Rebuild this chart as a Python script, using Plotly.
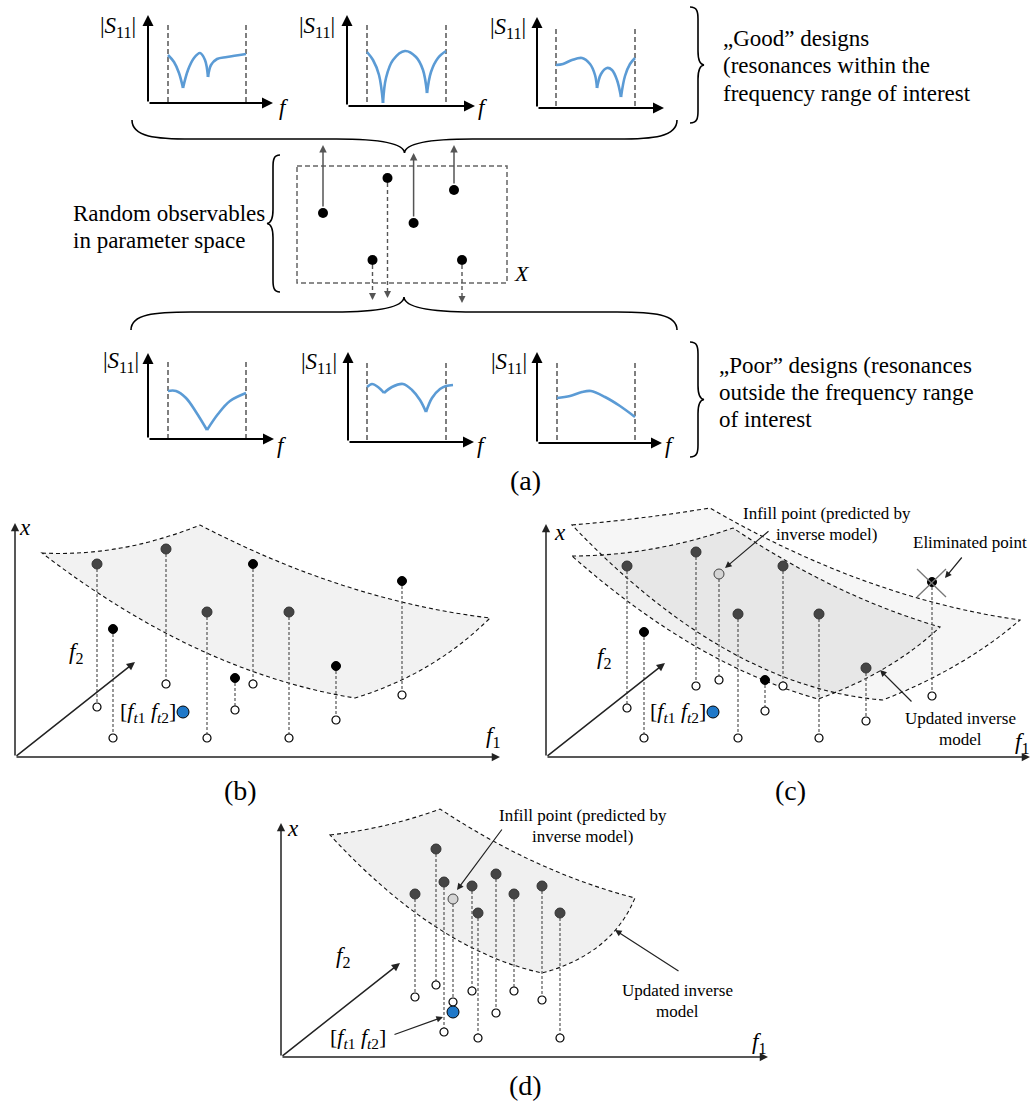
import plotly.graph_objects as go
import numpy as np

W, H = 1035, 1104
FONT = "Liberation Serif"
BLUE = "#5b9bd5"

# ---------------- panel (a): six |S11| mini plots ----------------
s11_origin = [(148, 103), (347, 106), (537, 108), (148, 439), (348, 442), (537, 443)]
s11_xtip = [273, 475, 664, 274, 474, 662]
s11_ytip = [15, 15, 17, 353, 352, 352]
s11_band = [(168, 246), (367, 446), (556, 635), (168, 246), (367, 446), (557, 635)]
s11_band_top = [25, 25, 29, 362, 363, 363]
s11_label = [(118, 27), (317, 27), (508, 28), (121, 362), (319, 363), (509, 363)]
f_label = [(284, 107), (483, 107), None, (282, 445), (482, 445), (670, 445)]

# curve segments (split at resonance cusps)
s11_curves = [
    [[(168, 55), (174, 62), (179, 73), (183, 88)],
     [(183, 88), (188, 70), (194, 58), (200, 53), (205, 60), (208, 77)],
     [(208, 77), (211, 65), (217, 59), (227, 57), (246, 54)]],
    [[(367, 52), (373, 60), (379, 75), (383, 103)],
     [(383, 103), (386, 78), (393, 60), (405, 51), (416, 57), (423, 70), (427, 93)],
     [(427, 93), (431, 72), (438, 58), (446, 51)]],
    [[(556, 65), (563, 64), (572, 60), (582, 58), (590, 64), (595, 75), (597, 88)],
     [(597, 88), (601, 74), (607, 68), (612, 70), (617, 80), (621, 97)],
     [(621, 97), (625, 76), (630, 64), (635, 58)]],
    [[(168, 391), (176, 391), (186, 398), (196, 412), (207, 430)],
     [(207, 430), (218, 414), (230, 401), (246, 393)]],
    [[(367, 387), (372, 384), (378, 387), (384, 393)],
     [(384, 393), (392, 387), (403, 384), (412, 390), (420, 400), (426, 412)],
     [(426, 412), (432, 398), (440, 389), (446, 386), (453, 385)]],
    [[(557, 398), (570, 396), (582, 392), (591, 391), (605, 397), (620, 406), (635, 417)]],
]

# random observables in parameter space
box_x = (297, 507)
box_y = (166, 283)
obs_x = [323, 387.5, 413.6, 454, 372.5, 462]
obs_y = [213, 178, 223, 190, 260, 260]
obs_dir = ["up", "down", "up", "up", "down", "down"]
obs_tip = [145, 298, 153, 145, 300, 303]

# ---------------- panels (b), (c), (d) ----------------
b_x = [97, 113, 166, 207, 235, 253, 289, 336, 402]
b_top = [564, 629, 549, 612, 678, 564, 612, 666, 581]
b_bot = [707, 738, 684, 738, 710, 684, 738, 720, 695]
b_kind = ["g", "k", "g", "g", "k", "k", "g", "k", "k"]

c_x = [627, 644, 696, 719, 738, 765, 783, 819, 866, 932]
c_top = [566, 632, 552, 574, 614, 680, 566, 614, 668, 582]
c_bot = [708, 738, 686, 680, 738, 711, 686, 738, 721, 696]
c_kind = ["g", "k", "g", "i", "g", "k", "g", "g", "g", "k"]

d_x = [415, 436, 444, 453, 472, 478, 496, 514, 542, 560]
d_top = [894, 849, 882, 899, 886, 913, 874, 894, 886, 913]
d_bot = [997, 985, 1032, 1002, 991, 1038, 1013, 991, 1000, 1038]
d_kind = ["g", "g", "g", "i", "g", "g", "g", "g", "g", "g"]

target_pts = [(183, 712), (713, 712), (453, 1012)]

# axes of the 3-D sketches: origin, x-axis tip, f2 arrow tip
axes3d_origin = [(15, 757), (546, 757), (281, 1057)]
axes3d_xtip = [500, 1030, 768]
axes3d_ytip = [523, 524, 823]
axes3d_f2tip = [(135, 662), (665, 663), (400, 963)]

# surfaces: corners and edge mid-points
surf_b_corners = [(42, 553), (200, 525), (490, 618), (355, 698)]
surf_b_mids = [(121, 548), (345, 586), (428, 666), (198, 649)]
surf_cA_corners = [(572, 525), (710, 508), (1020, 620), (883, 700)]
surf_cA_mids = [(640, 518), (865, 581), (958, 664), (727, 650)]
surf_cB_corners = [(572, 556), (733, 528), (940, 627), (818, 699)]
surf_cB_mids = [(652, 549), (836, 587), (885, 668), (695, 646)]
surf_d_corners = [(330, 835), (440, 809), (635, 898), (542, 973)]
surf_d_mids = [(387, 825), (537, 863), (600, 945), (436, 927)]

fig = go.Figure()
ann = []
shapes = []


def arrow(x0, y0, x1, y1, color="black", width=1.5, head=2, size=1.0):
    ann.append(dict(x=x1, y=y1, ax=x0, ay=y0, xref="x", yref="y", axref="x", ayref="y",
                    showarrow=True, arrowhead=head, arrowsize=size, arrowwidth=width,
                    arrowcolor=color, text="", standoff=0, startstandoff=0))


def text(x, y, s, size=23, xanchor="center", color="black"):
    ann.append(dict(x=x, y=y, xref="x", yref="y", text=s, showarrow=False,
                    xanchor=xanchor, yanchor="middle",
                    font=dict(family=FONT, size=size, color=color)))


def line(xs, ys, color="black", width=1.5, dash="solid", shape="linear"):
    fig.add_trace(go.Scatter(x=xs, y=ys, mode="lines", hoverinfo="skip",
                             line=dict(color=color, width=width, dash=dash, shape=shape)))


def brace(p0, p1, n, d1, d2, r1, r2):
    p0 = np.array(p0, float)
    p1 = np.array(p1, float)
    L = np.linalg.norm(p1 - p0)
    t = (p1 - p0) / L
    n = np.array(n, float)

    def P(u, v):
        q = p0 + u * t + v * n
        return f"{q[0]:.2f},{q[1]:.2f}"
    m = L / 2
    k = d1 + (d2 - d1) * 0.35
    path = (f"M {P(0, 0)} C {P(0, d1 * 0.9)} {P(r1 * 0.4, d1)} {P(r1, d1)} "
            f"L {P(m - r2, d1)} C {P(m - r2 * 0.35, d1)} {P(m - 0.5, k)} {P(m, d2)} "
            f"C {P(m + 0.5, k)} {P(m + r2 * 0.35, d1)} {P(m + r2, d1)} "
            f"L {P(L - r1, d1)} C {P(L - r1 * 0.4, d1)} {P(L, d1 * 0.9)} {P(L, 0)}")
    shapes.append(dict(type="path", path=path, xref="x", yref="y",
                       line=dict(color="black", width=1.6), layer="above"))


def surface(corners, mids, fill):
    pts = corners + [corners[0]]
    path = f"M {pts[0][0]},{pts[0][1]} "
    for i, m in enumerate(mids):
        p0, p2 = np.array(pts[i], float), np.array(pts[i + 1], float)
        c = 2 * np.array(m, float) - (p0 + p2) / 2
        path += f"Q {c[0]:.1f},{c[1]:.1f} {p2[0]},{p2[1]} "
    path += "Z"
    shapes.append(dict(type="path", path=path, xref="x", yref="y", fillcolor=fill,
                       line=dict(color="#111", width=1.1, dash="4px,3px"), layer="below"))


# ---- (a) mini plots ----
for i in range(6):
    ox, oy = s11_origin[i]
    arrow(ox, oy, s11_xtip[i], oy, width=2, head=2, size=1.1)
    arrow(ox, oy, ox, s11_ytip[i], width=2, head=2, size=1.1)
    for bx in s11_band[i]:
        line([bx, bx], [s11_band_top[i], oy], color="#555", width=1.5, dash="5px,3px")
    for seg in s11_curves[i]:
        line([p[0] for p in seg], [p[1] for p in seg], color=BLUE, width=2.6, shape="spline")
    lx, ly = s11_label[i]
    text(lx, ly, "|<i>S</i><sub>11</sub>|", size=23)
    if f_label[i] is not None:
        text(f_label[i][0], f_label[i][1], "<i>f</i>", size=23)

# box and observables
line([box_x[0], box_x[1], box_x[1], box_x[0], box_x[0]],
     [box_y[0], box_y[0], box_y[1], box_y[1], box_y[0]], color="#666", width=1.5, dash="5px,3px")
for x, y, dr, tip in zip(obs_x, obs_y, obs_dir, obs_tip):
    if dr == "up":
        arrow(x, y - 5, x, tip, color="#555", width=1.5, head=2, size=1.0)
    else:
        line([x, x], [y + 5, tip - 5], color="#555", width=1.4, dash="4px,3px")
        arrow(x, tip - 6, x, tip, color="#555", width=1.4, head=2, size=1.0)
fig.add_trace(go.Scatter(x=obs_x, y=obs_y, mode="markers", hoverinfo="skip",
                         marker=dict(size=10, color="black")))
text(522, 273, "<i>X</i>", size=22)

# braces
brace((132, 120), (677, 120), (0, 1), 19, 33, 60, 68)
brace((131, 330), (677, 330), (0, -1), 18, 33, 60, 70)
brace((690, 7), (690, 123), (1, 0), 8, 14, 12, 14)
brace((690, 342), (690, 457), (1, 0), 8, 14, 12, 14)
brace((280, 155), (280, 292), (-1, 0), 7, 13, 12, 14)

text(71, 213, "Random observables", xanchor="left")
text(71, 240, "in parameter space", xanchor="left")
text(721, 38, "\u201eGood\u201d designs", xanchor="left")
text(721, 65, "(resonances within the", xanchor="left")
text(721, 93, "frequency range of interest", xanchor="left")
text(717, 365, "\u201ePoor\u201d designs (resonances", xanchor="left")
text(717, 392, "outside the frequency range", xanchor="left")
text(717, 419, "of interest", xanchor="left")
text(525, 480, "(a)", size=28)

# ---- (b), (c), (d) ----
surface(surf_b_corners, surf_b_mids, "#f2f2f2")
surface(surf_cA_corners, surf_cA_mids, "rgba(0,0,0,0.035)")
surface(surf_cB_corners, surf_cB_mids, "rgba(0,0,0,0.06)")
surface(surf_d_corners, surf_d_mids, "#f0f0f0")

for j in range(3):
    ox, oy = axes3d_origin[j]
    arrow(ox, oy, axes3d_xtip[j], oy, color="#222", width=1.5, head=2, size=1.1)
    arrow(ox, oy, ox, axes3d_ytip[j], color="#222", width=1.5, head=2, size=1.1)
    arrow(ox, oy, axes3d_f2tip[j][0], axes3d_f2tip[j][1], color="#222", width=1.5, head=2, size=1.1)

kind_style = {"g": ("#454545", "#333", 10), "k": ("black", "black", 9), "i": ("#d4d4d4", "#444", 10)}

for xs, tops, bots, kinds in [(b_x, b_top, b_bot, b_kind), (c_x, c_top, c_bot, c_kind),
                              (d_x, d_top, d_bot, d_kind)]:
    for x, t, b in zip(xs, tops, bots):
        line([x, x], [t, b], color="#555", width=1.2, dash="3px,2px")
    fig.add_trace(go.Scatter(x=xs, y=bots, mode="markers", hoverinfo="skip",
                             marker=dict(size=8, color="white", line=dict(color="black", width=1.2))))
    for k in ["g", "k", "i"]:
        sx = [x for x, kk in zip(xs, kinds) if kk == k]
        sy = [t for t, kk in zip(tops, kinds) if kk == k]
        if sx:
            c, lc, sz = kind_style[k]
            fig.add_trace(go.Scatter(x=sx, y=sy, mode="markers", hoverinfo="skip",
                                     marker=dict(size=sz, color=c, line=dict(color=lc, width=1))))

# eliminated point cross
line([917, 946], [569, 597], color="#777", width=1.3)
line([917, 946], [597, 569], color="#777", width=1.3)

fig.add_trace(go.Scatter(x=[p[0] for p in target_pts], y=[p[1] for p in target_pts],
                         mode="markers", hoverinfo="skip",
                         marker=dict(size=12, color="#1f78c8", line=dict(color="black", width=1))))

ft = "[<i>f</i><sub><i>t</i>1</sub> <i>f</i><sub><i>t</i>2</sub>]"
for (xl, yl), (f1x, f1y), (f2x, f2y), (tx, ty) in [
        ((25, 527), (493, 737), (76, 653), (148, 712)),
        ((560, 532), (1022, 743), (604, 658), (678, 712)),
        ((293, 828), (759, 1043), (343, 957), (358, 1038))]:
    text(xl, yl, "<i>x</i>")
    text(f1x, f1y, "<i>f</i><sub>1</sub>")
    text(f2x, f2y, "<i>f</i><sub>2</sub>")
    text(tx, ty, ft, size=22)

# annotation labels
text(827, 513, "Infill point (predicted by", size=17)
text(827, 534, "inverse model)", size=17)
arrow(770, 530, 725, 568, color="#222", width=1.2, head=2, size=1.1)
text(970, 542, "Eliminated point", size=17)
arrow(963, 556, 945, 578, color="#222", width=1.2, head=2, size=1.1)
text(960, 718, "Updated inverse", size=17)
text(960, 739, "model", size=17)
arrow(913, 703, 880, 670, color="#222", width=1.2, head=2, size=1.1)

text(583, 815, "Infill point (predicted by", size=17)
text(583, 836, "inverse model)", size=17)
arrow(503, 828, 457, 890, color="#222", width=1.2, head=2, size=1.1)
text(677, 990, "Updated inverse", size=17)
text(677, 1011, "model", size=17)
arrow(680, 972, 615, 930, color="#222", width=1.2, head=2, size=1.1)
arrow(393, 1035, 443, 1017, color="#222", width=1.2, head=2, size=1.1)

text(240, 790, "(b)", size=28)
text(790, 790, "(c)", size=28)
text(525, 1085, "(d)", size=28)

fig.update_layout(
    width=W, height=H, margin=dict(l=0, r=0, t=0, b=0),
    font=dict(family=FONT, size=20, color="black"),
    plot_bgcolor="white", paper_bgcolor="white", showlegend=False,
    xaxis=dict(range=[0, W], visible=False, fixedrange=True),
    yaxis=dict(range=[H, 0], visible=False, fixedrange=True),
    annotations=ann, shapes=shapes,
)
fig.write_html("out.html", config={"displayModeBar": False},
               post_script="document.body.style.margin='0';document.body.style.overflow='hidden';")
